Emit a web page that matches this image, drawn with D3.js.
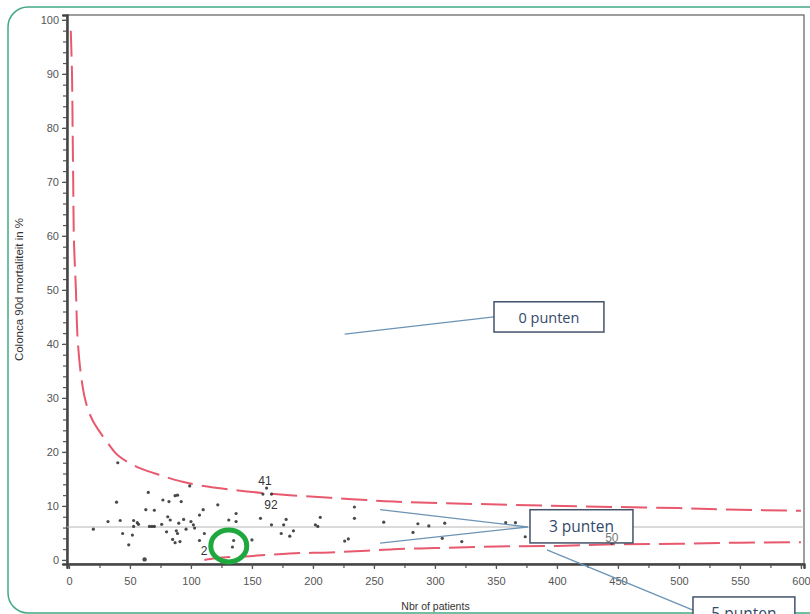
<!DOCTYPE html>
<html>
<head>
<meta charset="utf-8">
<script src="https://cdn.jsdelivr.net/npm/d3@7"></script>
<style>
  html, body { margin: 0; padding: 0; background: #fff; }
  svg { display: block; }
</style>
</head>
<body>
<svg id="chart" width="810" height="614"></svg>
<script>
// ---- Data ----
const patients = [20,32,39,40,42,44,49,52,53,53,56,57,62,63,65,66,68,70,70,76,77,80,81,82,83,85,87,87,88,89,89,90,91,92,94,96,99,100,102,103,107,107,110,111,122,131,134,135,137,137,150,157,159,162,166,166,174,176,178,181,184,202,204,206,226,229,234,234,258,282,286,295,306,308,322,358,366,374,383,385,445];
const mortality = [5.7,7.1,10.7,18.0,7.3,4.9,2.8,4.6,7.3,6.2,6.9,6.6,0.1,9.3,12.5,6.2,6.2,6.2,9.2,6.6,11.1,5.2,8.0,10.8,7.4,3.8,11.9,3.2,5.4,12.0,4.9,6.8,3.4,10.8,7.5,5.7,13.7,7.1,6.5,5.9,8.3,3.6,9.3,4.9,10.2,7.4,2.4,3.6,8.6,7.1,3.7,7.7,12.2,13.3,12.2,6.5,4.9,6.5,7.5,4.4,5.4,6.5,6.2,7.9,3.5,3.9,9.8,7.7,7.0,5.1,6.7,6.3,4.0,6.8,3.4,6.9,6.9,4.3,4.3,3.7,3.1];

const upperN = [1.5,2.5,3,3.5,4,5.7,7.4,10,13,16,20,25,32,40,50,58,75,91,105,134,159,181,214,244,266,310,364,450,500,550,600];
const upperP = [98,90,80,70,60,50,40,34,30,27.6,25.6,23.8,21.6,19.4,17.9,17.0,15.7,14.6,13.9,13.0,12.4,12.0,11.5,11.1,10.8,10.5,10.2,9.8,9.6,9.3,9.1];
const lowerN = [111,120,148,181,214,244,266,300,350,400,450,500,550,600];
const lowerP = [0,0.3,0.7,1.2,1.4,1.7,2.0,2.2,2.5,2.6,2.9,3.0,3.2,3.3];
const targetP = 6.1;

const labelText = ["41","92","2","50"];
const labelN = [160.7,165.6,110.7,445];
const labelP = [14.6,10.2,1.7,4.1];

const yTicksMajor = [0,10,20,30,40,50,60,70,80,90,100];
const yTicksMinor = d3.range(0,101,2);
const xTicksMajor = [0,50,100,150,200,250,300,350,400,450,500,550,600];
const xTicksMinor = d3.range(0,601,25);

const yTitle = "Colonca 90d mortaliteit in %";
const xTitle = "Nbr of patients";
const boxLabels = ["0 punten","3 punten","5 punten"];

// ---- Drawing ----
const svg = d3.select("#chart");
const L = 67, R = 804, T = 15, B = 564;
const x = d3.scaleLinear().domain([-1.6, 602.5]).range([L, R]);
const y = d3.scaleLinear().domain([-0.75, 100.9]).range([B, T]);

// card border
svg.append("rect").attr("x", 8).attr("y", 7).attr("width", 820).attr("height", 606)
  .attr("rx", 20).attr("fill", "none").attr("stroke", "#43a985").attr("stroke-width", 1.5);

// frame
svg.append("rect").attr("x", L).attr("y", T).attr("width", R - L).attr("height", B - T)
  .attr("fill", "none").attr("stroke", "#6a6a6a").attr("stroke-width", 1.3);

// axes
const axisColor = "#555";
const yMinor = svg.append("g").attr("transform", `translate(${L},0)`)
  .call(d3.axisLeft(y).tickValues(yTicksMinor).tickSize(4).tickFormat(""));
const yMajor = svg.append("g").attr("transform", `translate(${L},0)`)
  .call(d3.axisLeft(y).tickValues(yTicksMajor).tickSize(5).tickPadding(3));
const xMinor = svg.append("g").attr("transform", `translate(0,${B})`)
  .call(d3.axisBottom(x).tickValues(xTicksMinor).tickSize(4).tickFormat(""));
const xMajor = svg.append("g").attr("transform", `translate(0,${B})`)
  .call(d3.axisBottom(x).tickValues(xTicksMajor).tickSize(5).tickPadding(8));
[yMinor, yMajor, xMinor, xMajor].forEach(g => {
  g.select(".domain").attr("stroke", "#444").attr("stroke-width", 2);
  g.selectAll(".tick line").attr("stroke", axisColor).attr("stroke-width", 1.2);
  g.selectAll(".tick text").attr("fill", "#555").attr("font-family", "Liberation Sans, Arial, sans-serif").attr("font-size", 11);
});

// titles
svg.append("text").attr("transform", `translate(23,${(T + B) / 2}) rotate(-90)`)
  .attr("text-anchor", "middle").attr("font-family", "Liberation Sans, Arial, sans-serif")
  .attr("font-size", 11.5).attr("fill", "#333").text(yTitle);
svg.append("text").attr("x", (L + R) / 2).attr("y", 610)
  .attr("text-anchor", "middle").attr("font-family", "Liberation Sans, Arial, sans-serif")
  .attr("font-size", 10.5).attr("fill", "#333").text(xTitle);

// target line
svg.append("line").attr("x1", L).attr("x2", R).attr("y1", y(targetP)).attr("y2", y(targetP))
  .attr("stroke", "#b5b5b5").attr("stroke-width", 1.2);

// control limits
svg.append("path").datum(upperN.map((n, i) => [n, upperP[i]]))
  .attr("d", d3.line().x(d => x(d[0])).y(d => y(d[1])).curve(d3.curveMonotoneY))
  .attr("fill", "none").attr("stroke", "#e8596e").attr("stroke-width", 2)
  .attr("stroke-dasharray", "26,9");
svg.append("path").datum(lowerN.map((n, i) => [n, lowerP[i]]))
  .attr("d", d3.line().x(d => x(d[0])).y(d => y(d[1])).curve(d3.curveMonotoneX))
  .attr("fill", "none").attr("stroke", "#e8596e").attr("stroke-width", 2)
  .attr("stroke-dasharray", "26,9");

// points
svg.append("g").selectAll("circle").data(patients.map((n, i) => [n, mortality[i]]))
  .join("circle")
  .attr("cx", d => x(d[0])).attr("cy", d => y(d[1]))
  .attr("r", d => d[1] < 0.5 ? 2.2 : 1.6)
  .attr("fill", "#2a2a2a").attr("opacity", 0.85);

// point labels (the "50" one is drawn last, over its box)
svg.append("g").selectAll("text").data(labelText.slice(0, 3)).join("text")
  .attr("x", (d, i) => x(labelN[i])).attr("y", (d, i) => y(labelP[i]))
  .attr("text-anchor", "middle").attr("dominant-baseline", "central")
  .attr("font-family", "Liberation Sans, Arial, sans-serif").attr("font-size", 12)
  .attr("fill", "#333").text(d => d);

// green highlight circle
svg.append("ellipse").attr("cx", x(131)).attr("cy", y(2.6)).attr("rx", 18).attr("ry", 16)
  .attr("fill", "none").attr("stroke", "#1fa83e").attr("stroke-width", 5);

// annotations
const pointerColor = "#6b94b6";
const boxStroke = "#44526a";
const textColor = "#34496a";
function pointer(n1, p1, n2, p2) {
  svg.append("line").attr("x1", x(n1)).attr("y1", y(p1)).attr("x2", x(n2)).attr("y2", y(p2))
    .attr("stroke", pointerColor).attr("stroke-width", 1.3);
}
function box(n0, n1, pTop, pBot, label, fs) {
  const x0 = x(n0), x1 = x(n1), y0 = y(pTop), y1 = y(pBot);
  svg.append("rect").attr("x", x0).attr("y", y0).attr("width", x1 - x0).attr("height", y1 - y0)
    .attr("fill", "#fff").attr("stroke", boxStroke).attr("stroke-width", 1.5);
  svg.append("text").attr("x", (x0 + x1) / 2).attr("y", y0 + 16)
    .attr("text-anchor", "middle").attr("dominant-baseline", "central")
    .attr("font-family", "Open Sans, Noto Sans, sans-serif").attr("font-size", fs)
    .attr("fill", textColor).text(label);
}
pointer(348.4, 45.0, 226, 41.8);
box(348.4, 438.5, 47.8, 42.2, boxLabels[0], 14.5);
pointer(376, 6.1, 255, 9.3);
pointer(376, 6.1, 255, 3.1);
pointer(391.8, 1.85, 511.5, -9.3);
box(377.9, 462.3, 9.3, 3.15, boxLabels[1], 15.5);
box(511.5, 595, -6.85, -12.5, boxLabels[2], 15.5);
svg.append("text").attr("x", x(labelN[3])).attr("y", y(labelP[3]))
  .attr("text-anchor", "middle").attr("dominant-baseline", "central")
  .attr("font-family", "Liberation Sans, Arial, sans-serif").attr("font-size", 12)
  .attr("fill", "#555").attr("opacity", 0.8).text(labelText[3]);
</script>
</body>
</html>
